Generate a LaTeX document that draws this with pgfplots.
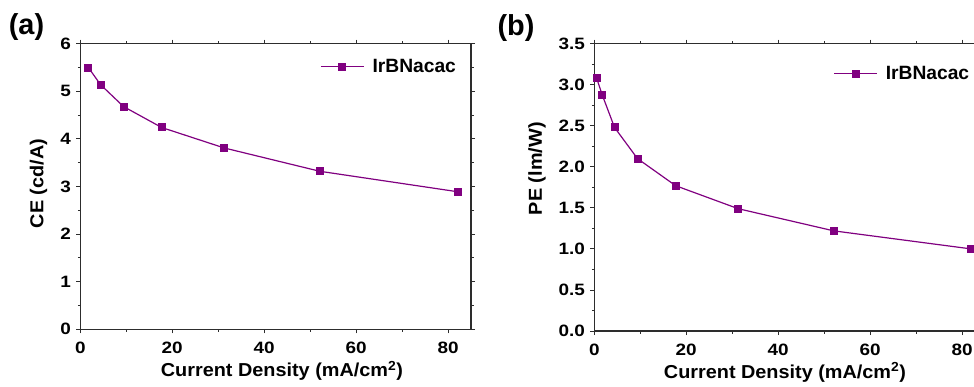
\documentclass[border=0pt]{standalone}
\usepackage{pgfplots}
\pgfplotsset{compat=1.18}
\usepackage{fontspec}
\setmainfont{Liberation Sans}
\newfontfamily\labfont[FakeStretch=1.06]{Liberation Sans}
\newfontfamily\tickfont[FakeStretch=1.15]{Liberation Sans}
\definecolor{ircol}{RGB}{128,0,128}
\definecolor{axcol}{RGB}{45,45,45}

\pgfplotsset{
  panel/.style={
    scale only axis, width=390.7bp,
    xmin=0, xmax=85, xtick={0,20,...,80}, minor x tick num=1,
    minor y tick num=1,
    tick align=outside,
    major tick length=4bp, minor tick length=2.5bp,
    axis line style={axcol, line width=1.1bp},
    every tick/.style={axcol, line width=0.9bp},
    tick label style={font=\tickfont\bfseries\fontsize{16.5}{16.5}\selectfont},
    xticklabel style={yshift=-5bp},
    yticklabel style={xshift=-2bp},
    /pgf/number format/assume math mode=true,
    label style={font=\labfont\bfseries\fontsize{18.8}{18.8}\selectfont},
    legend style={draw=none, fill=none, font=\bfseries\fontsize{19.3}{19.3}\selectfont, inner sep=0pt, anchor=west,
      /tikz/every odd column/.append style={column sep=6bp}},
    legend cell align=left,
    legend image code/.code={\draw[mark repeat=2,mark phase=2,#1] plot coordinates {(0bp,0bp)(21.5bp,0bp)(43bp,0bp)};},
  },
  irplot/.style={ircol, line width=1.2bp, mark=square*, mark size=3.4bp, mark options={fill=ircol, solid}},
}

\begin{document}
\begin{tikzpicture}
\begin{axis}[panel, height=285.6bp,
  at={(80.3bp,-329.3bp)}, anchor=south west,
  ymin=0, ymax=6, ytick={0,1,...,6},
  xlabel={Current Density (mA/cm\textsuperscript{2})},
  ylabel={CE (cd/A)},
  xlabel style={at={(axis description cs:0.516,-0.166)}, anchor=base},
  ylabel style={at={(axis description cs:-0.0947,0.51)}, anchor=base},
  legend style={at={(0.614,0.919)}},
]
\addplot[irplot] coordinates {
(1.75,5.50) (4.4,5.14) (9.4,4.68) (17.7,4.24) (31.3,3.81) (52.1,3.32) (82.1,2.89)
};
\addlegendentry{IrBNacac}
\end{axis}

\begin{axis}[panel, height=287.3bp,
  at={(594.3bp,-331bp)}, anchor=south west,
  ymin=0, ymax=3.5, ytick={0,0.5,...,3.5},
  yticklabel style={/pgf/number format/fixed, /pgf/number format/fixed zerofill, /pgf/number format/precision=1},
  xlabel={Current Density (mA/cm\textsuperscript{2})},
  ylabel={PE (lm/W)},
  xlabel style={at={(axis description cs:0.488,-0.164)}, anchor=base},
  ylabel style={at={(axis description cs:-0.134,0.565)}, anchor=base},
  legend style={at={(0.612,0.895)}},
]
\addplot[irplot] coordinates {
(0.5,3.08) (1.7,2.88) (4.4,2.48) (9.4,2.10) (17.7,1.77) (31.3,1.49) (52.1,1.22) (82.0,1.00)
};
\addlegendentry{IrBNacac}
\end{axis}

\node[font=\bfseries\fontsize{29}{29}\selectfont] at (26.5bp,-27.5bp) {(a)};
\node[font=\bfseries\fontsize{29}{29}\selectfont] at (516bp,-28.5bp) {(b)};

\pgfresetboundingbox
\useasboundingbox (0,0) rectangle (974bp,-387bp);
\end{tikzpicture}
\end{document}
